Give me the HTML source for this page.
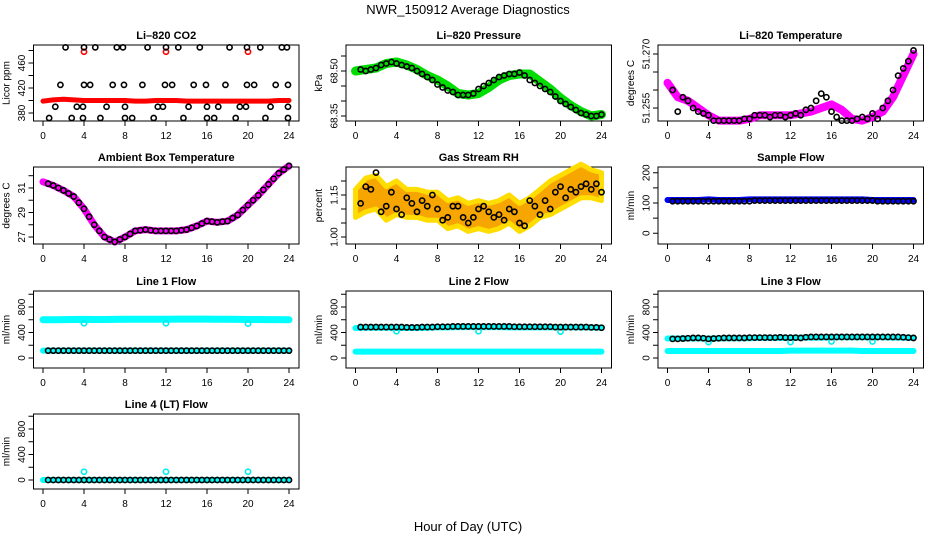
<!DOCTYPE html>
<html><head><meta charset="utf-8"><style>
body{margin:0;background:#fff}
svg{display:block;font-family:"Liberation Sans",Arial,sans-serif}
</style></head><body>
<svg id="chart" width="936" height="540" viewBox="0 0 936 540">
<text x="468" y="14" text-anchor="middle" font-size="13">NWR_150912  Average Diagnostics</text>
<text x="468" y="531" text-anchor="middle" font-size="13">Hour of Day (UTC)</text>
</svg>
<script>
const hourly = [0,1,2,3,4,5,6,7,8,9,10,11,12,13,14,15,16,17,18,19,20,21,22,23,24];
const halfHours = [0.5,1,1.5,2,2.5,3,3.5,4,4.5,5,5.5,6,6.5,7,7.5,8,8.5,9,9.5,10,10.5,11,11.5,12,12.5,13,13.5,14,14.5,15,15.5,16,16.5,17,17.5,18,18.5,19,19.5,20,20.5,21,21.5,22,22.5,23,23.5,24];
const xTicks = [0,4,8,12,16,20,24];

// CO2
const co2Red = [399,401,402,401,400,400,400,400,400,399,399,400,400,400,399,399,399,399,399,399,399,399,399,400,400];
const co2OutlierHours = [4,12,20];
const co2OutlierVals = [478,478,478];
const co2BlackHours = [2.2,4.0,5.1,7.2,7.8,10.2,12.0,13.2,15.3,18.2,19.9,21.2,23.3,23.8, 1.7,4.0,4.6,6.8,7.9,9.7,11.9,12.6,14.7,15.9,17.8,19.9,20.6,22.7,23.9, 1.2,3.3,3.9,6.2,8.0,11.2,11.7,14.2,16.0,17.1,19.2,19.8,22.2,23.9, 0.6,2.8,3.9,5.6,8.0,8.7,10.8,13.7,16.0,16.7,18.8,21.7,23.9];
const co2BlackVals = [485,485,485,485,485,485,485,485,485,485,485,485,485,485, 425,425,425,425,425,425,425,425,425,425,425,425,425,425,425, 390,390,390,390,390,390,390,390,390,390,390,390,390,390, 372,372,372,372,372,372,372,372,372,372,372,372,372];

// Pressure
const presGreen = [68.50,68.505,68.51,68.525,68.53,68.52,68.505,68.485,68.47,68.45,68.425,68.42,68.425,68.445,68.47,68.485,68.49,68.49,68.465,68.44,68.41,68.385,68.365,68.35,68.355];
const presBlack = [68.505,68.50,68.505,68.51,68.52,68.525,68.53,68.525,68.52,68.515,68.51,68.50,68.49,68.48,68.47,68.455,68.445,68.435,68.43,68.42,68.42,68.42,68.425,68.44,68.45,68.46,68.47,68.48,68.485,68.49,68.49,68.495,68.485,68.47,68.46,68.45,68.44,68.43,68.415,68.40,68.39,68.38,68.37,68.36,68.355,68.35,68.35,68.355];

// Li-820 Temperature
const tempMag = [51.262,51.258,51.257,51.255,51.253,51.2515,51.2515,51.2515,51.252,51.253,51.253,51.253,51.253,51.2535,51.254,51.255,51.256,51.2545,51.252,51.2515,51.2525,51.254,51.258,51.264,51.270];
const tempBlack = [51.260,51.254,51.258,51.257,51.255,51.254,51.2535,51.253,51.2515,51.2515,51.2515,51.2515,51.2515,51.2515,51.252,51.252,51.253,51.253,51.253,51.2525,51.253,51.253,51.2525,51.253,51.2535,51.253,51.2545,51.255,51.257,51.259,51.258,51.254,51.2525,51.2515,51.2515,51.2515,51.252,51.2525,51.252,51.2535,51.252,51.255,51.257,51.260,51.264,51.266,51.268,51.271];

// Ambient
const ambMag = [31.5,31.2,30.8,30.3,29.3,28.0,27.0,26.6,27.0,27.5,27.6,27.5,27.5,27.5,27.6,27.9,28.3,28.2,28.3,28.8,29.6,30.4,31.3,32.2,32.8];
const ambBlack = [31.35,31.2,31.0,30.8,30.55,30.3,29.8,29.3,28.65,28.0,27.5,27.0,26.8,26.6,26.8,27.0,27.25,27.5,27.55,27.6,27.55,27.5,27.5,27.5,27.5,27.5,27.55,27.6,27.75,27.9,28.1,28.3,28.25,28.2,28.25,28.3,28.55,28.8,29.2,29.6,30.0,30.4,30.85,31.3,31.75,32.2,32.5,32.8];

// RH
const rhCenter = [1.12,1.15,1.16,1.12,1.14,1.12,1.12,1.11,1.11,1.08,1.09,1.07,1.08,1.07,1.08,1.10,1.07,1.09,1.12,1.14,1.16,1.18,1.20,1.19,1.18];
const rhSpread = [0.05,0.06,0.06,0.06,0.06,0.05,0.05,0.05,0.05,0.05,0.05,0.05,0.05,0.05,0.05,0.05,0.05,0.05,0.05,0.06,0.06,0.06,0.06,0.05,0.05];
const rhBlack = [1.12,1.18,1.17,1.23,1.09,1.11,1.16,1.10,1.08,1.14,1.12,1.09,1.13,1.11,1.15,1.10,1.06,1.07,1.11,1.11,1.07,1.05,1.07,1.10,1.11,1.09,1.07,1.08,1.06,1.10,1.09,1.05,1.04,1.13,1.11,1.08,1.13,1.10,1.16,1.18,1.14,1.17,1.16,1.18,1.19,1.17,1.19,1.16];

// Sample flow
const sampleBlue = [110,110,110,110,112,110,110,110,112,112,112,112,112,112,112,112,112,112,112,112,110,110,110,110,110];
const sampleBlack = [106,106,106,106,106,106,106,106,106,106,106,106,106,106,106,106,108,108,108,108,108,108,108,108,108,108,108,108,108,108,108,108,108,108,108,108,108,108,108,108,106,106,106,106,106,106,106,106];

// Line 1
const l1CyanHigh = [600,600,602,604,606,604,604,606,608,608,608,608,608,610,610,610,610,608,608,606,604,604,602,602,600];
const l1CyanLow = [115,115,115,115,115,115,115,115,115,115,115,115,115,115,115,115,115,115,115,115,115,115,115,115,115];
const l1OutlierHours = [4,12,20];
const l1OutlierVals = [545,545,540];
const l1Black = [115,115,115,115,115,115,115,115,115,115,115,115,115,115,115,115,115,115,115,115,115,115,115,115,115,115,115,115,115,115,115,115,115,115,115,115,115,115,115,115,115,115,115,115,115,115,115,115];

// Line 2
const l2CyanHigh = [470,475,475,475,470,470,470,475,480,480,485,485,485,485,485,480,480,480,480,480,480,480,480,478,475];
const l2CyanLow = [100,100,100,100,100,100,100,100,100,100,100,100,100,100,100,100,100,100,100,100,100,100,100,100,100];
const l2OutlierHours = [4,12,20];
const l2OutlierVals = [420,420,415];
const l2Black = [485,485,485,485,485,485,485,485,485,480,480,480,485,485,485,490,490,490,495,495,495,495,495,495,495,495,495,495,495,495,490,490,490,490,490,490,490,490,485,485,485,485,485,485,485,480,480,475];

// Line 3
const l3CyanHigh = [305,305,305,305,305,305,310,310,310,315,315,315,315,320,320,320,325,325,325,325,325,325,320,320,315];
const l3CyanLow = [110,110,110,110,110,110,110,110,110,110,110,110,115,115,115,115,115,115,115,110,110,110,110,110,110];
const l3OutlierHours = [4,12,16,20];
const l3OutlierVals = [250,250,260,260];
const l3Black = [300,300,305,310,315,315,310,300,305,310,315,315,315,315,315,320,320,320,320,320,320,325,320,320,320,315,325,330,330,330,330,330,330,330,330,330,330,330,330,330,330,330,330,330,330,325,320,315];

// Line 4
const l4Cyan = [0,0,0,0,0,0,0,0,0,0,0,0,0,0,0,0,0,0,0,0,0,0,0,0,0];
const l4OutlierHours = [4,12,20];
const l4OutlierVals = [130,130,130];
const l4Black = [0,0,0,0,0,0,0,0,0,0,0,0,0,0,0,0,0,0,0,0,0,0,0,0,0,0,0,0,0,0,0,0,0,0,0,0,0,0,0,0,0,0,0,0,0,0,0,0];

const NS = 'http://www.w3.org/2000/svg';
const svg = document.getElementById('chart');
function mk(tag, attrs, parent) {
  const e = document.createElementNS(NS, tag);
  for (const k in attrs) e.setAttribute(k, attrs[k]);
  (parent || svg).appendChild(e);
  return e;
}
const colLeft = [33.5, 346, 658];
const rowTop = [45, 167, 291, 414];
const W = 265.5;
const rowH = [76, 77, 77, 75];

function makePanel(name, title, col, row, ymin, ymax, ticks, labels, ytitle) {
  const g = mk('g', {});
  
  
  const L = colLeft[col], T = rowTop[row], H = rowH[row];
  const xs = h => L + 9.5 + h * 10.25;
  const ys = v => T + H - (v - ymin) / (ymax - ymin) * H;
  const box = mk('rect', {x: L, y: T, width: W, height: H, fill: 'none', stroke: '#000', 'stroke-width': 1}, g);
  
  
  const t = mk('text', {x: L + W / 2, y: T - 6, 'text-anchor': 'middle', 'font-size': 11, 'font-weight': 'bold'}, g);
  t.textContent = title;
  
  
  const xa = mk('g', {}, g);
  
  
  xTicks.forEach(h => {
    mk('line', {x1: xs(h), x2: xs(h), y1: T + H, y2: T + H + 5, stroke: '#000'}, xa);
    const tx = mk('text', {x: xs(h), y: T + H + 18, 'text-anchor': 'middle', 'font-size': 10}, xa);
    tx.textContent = h;
  });
  const ya = mk('g', {}, g);
  
  
  ticks.forEach(v => mk('line', {x1: L - 5, x2: L, y1: ys(v), y2: ys(v), stroke: '#000'}, ya));
  labels.forEach(v => {
    const x = L - 12, y = ys(v);
    const tx = mk('text', {x: x, y: y, 'text-anchor': 'middle', 'font-size': 10, transform: `rotate(-90 ${x} ${y})`, dy: 3.5}, ya);
    tx.textContent = v;
  });
  const yt = mk('text', {x: L - 24, y: T + H / 2, 'text-anchor': 'middle', 'font-size': 10, transform: `rotate(-90 ${L - 24} ${T + H / 2})`}, g);
  yt.textContent = ytitle;
  
  
  return {g, xs, ys};
}
function band(p, name, hrs, vals, color, w) {
  const pts = hrs.map((h, i) => p.xs(h) + ',' + p.ys(vals[i])).join(' ');
  const pl = mk('polyline', {points: pts, fill: 'none', stroke: color, 'stroke-width': w, 'stroke-linejoin': 'round', 'stroke-linecap': 'round'}, p.g);
  
  
}
function dots(p, name, hrs, vals, color) {
  const g = mk('g', {}, p.g);
  
  
  hrs.forEach((h, i) => mk('circle', {cx: p.xs(h), cy: p.ys(vals[i]), r: 2.6, fill: 'none', stroke: color, 'stroke-width': 1.6}, g));
}

// CO2
let p = makePanel('co2', 'Li\u2013820 CO2', 0, 0, 367.2, 488.8, [380,400,420,440,460,480], [380,420,460], 'Licor ppm');
band(p, 'co2-red-series', hourly, co2Red, '#ff0000', 5);
dots(p, 'co2-red-outliers', co2OutlierHours, co2OutlierVals, '#ff0000');
dots(p, 'co2-black-points', co2BlackHours, co2BlackVals, '#000');

// Pressure
p = makePanel('pressure', 'Li\u2013820 Pressure', 1, 0, 68.3333, 68.5867, [68.35,68.40,68.45,68.50,68.55], ['68.35','68.50'], 'kPa');
band(p, 'pressure-green-series', hourly, presGreen, '#00dd00', 9);
dots(p, 'pressure-black-points', halfHours, presBlack, '#000');

// Temperature
p = makePanel('temperature', 'Li\u2013820 Temperature', 2, 0, 51.2514, 51.2725, [51.255,51.26,51.265,51.27], ['51.255','51.270'], 'degrees C');
band(p, 'temperature-magenta-series', hourly, tempMag, '#ff00ff', 8);
dots(p, 'temperature-black-points', halfHours, tempBlack, '#000');

// Ambient
p = makePanel('ambient', 'Ambient Box Temperature', 0, 1, 26.43, 32.71, [27,28,29,30,31,32], [27,29,31], 'degrees C');
band(p, 'ambient-magenta-series', hourly, ambMag, '#ff00ff', 7);
dots(p, 'ambient-black-points', halfHours, ambBlack, '#000');

// RH
p = makePanel('rh', 'Gas Stream RH', 1, 1, 0.975, 1.25, [1.00,1.05,1.10,1.15,1.20], ['1.00','1.15'], 'percent');
{
  const up = hourly.map((h, i) => p.xs(h) + ',' + p.ys(rhCenter[i] + rhSpread[i]));
  const dn = hourly.map((h, i) => p.xs(h) + ',' + p.ys(rhCenter[i] - rhSpread[i])).reverse();
  const poly = mk('polygon', {points: up.concat(dn).join(' '), fill: '#f7a600', stroke: '#ffdd00', 'stroke-width': 5, 'stroke-linejoin': 'round'}, p.g);
  
  
}
dots(p, 'rh-black-points', halfHours, rhBlack, '#000');

// Sample flow
p = makePanel('sample-flow', 'Sample Flow', 2, 1, -35.5, 219, [0,50,100,150,200], [0,100,200], 'ml/min');
band(p, 'sample-flow-blue-series', hourly, sampleBlue, '#0000ff', 6);
dots(p, 'sample-flow-black-points', halfHours, sampleBlack, '#000');

const flowTicks = [0,200,400,600,800,1000], flowLabels = [0,400,800];
// Line 1
p = makePanel('line1-flow', 'Line 1 Flow', 0, 2, -157, 1051, flowTicks, flowLabels, 'ml/min');
band(p, 'line1-cyan-high', hourly, l1CyanHigh, '#00ffff', 7);
band(p, 'line1-cyan-low', hourly, l1CyanLow, '#00ffff', 6);
dots(p, 'line1-cyan-outliers', l1OutlierHours, l1OutlierVals, '#00eeee');
dots(p, 'line1-black-points', halfHours, l1Black, '#000');

// Line 2
p = makePanel('line2-flow', 'Line 2 Flow', 1, 2, -157, 1051, flowTicks, flowLabels, 'ml/min');
band(p, 'line2-cyan-low', hourly, l2CyanLow, '#00ffff', 6);
band(p, 'line2-cyan-high', hourly, l2CyanHigh, '#00ffff', 6);
dots(p, 'line2-cyan-outliers', l2OutlierHours, l2OutlierVals, '#00eeee');
dots(p, 'line2-black-points', halfHours, l2Black, '#000');

// Line 3
p = makePanel('line3-flow', 'Line 3 Flow', 2, 2, -157, 1051, flowTicks, flowLabels, 'ml/min');
band(p, 'line3-cyan-low', hourly, l3CyanLow, '#00ffff', 6);
band(p, 'line3-cyan-high', hourly, l3CyanHigh, '#00ffff', 6);
dots(p, 'line3-cyan-outliers', l3OutlierHours, l3OutlierVals, '#00eeee');
dots(p, 'line3-black-points', halfHours, l3Black, '#000');

// Line 4
p = makePanel('line4-flow', 'Line 4 (LT) Flow', 0, 3, -141, 1035, flowTicks, flowLabels, 'ml/min');
band(p, 'line4-cyan-series', hourly, l4Cyan, '#00ffff', 6);
dots(p, 'line4-cyan-outliers', l4OutlierHours, l4OutlierVals, '#00eeee');
dots(p, 'line4-black-points', halfHours, l4Black, '#000');
</script>
</body></html>
